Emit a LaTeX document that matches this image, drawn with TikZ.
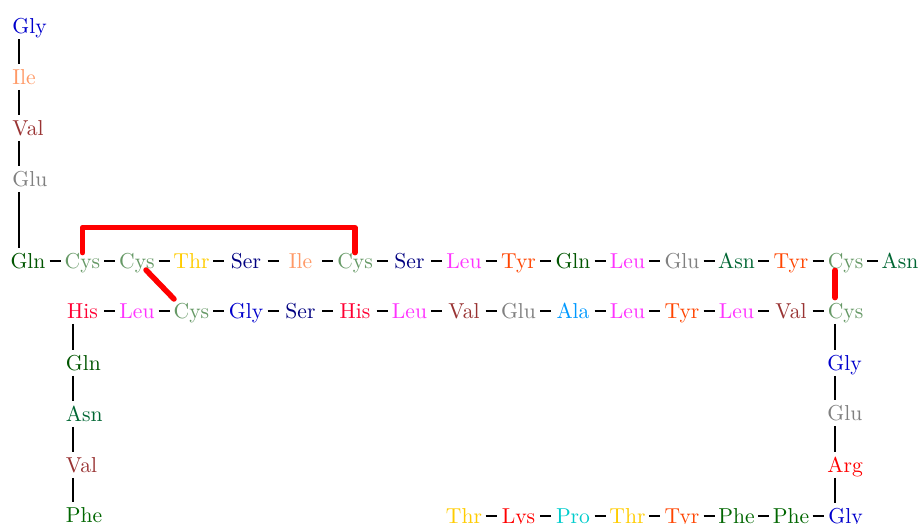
\documentclass[tikz,border=0pt]{standalone}
\usetikzlibrary{calc}
\definecolor{cGly}{HTML}{0000CC}
\definecolor{cIle}{HTML}{FF9966}
\definecolor{cVal}{HTML}{993333}
\definecolor{cGlu}{HTML}{808080}
\definecolor{cGln}{HTML}{005500}
\definecolor{cCys}{HTML}{669966}
\definecolor{cThr}{HTML}{FFCC00}
\definecolor{cSer}{HTML}{000080}
\definecolor{cLeu}{HTML}{FF33FF}
\definecolor{cTyr}{HTML}{FF4400}
\definecolor{cAsn}{HTML}{006633}
\definecolor{cHis}{HTML}{FF0033}
\definecolor{cAla}{HTML}{0099FF}
\definecolor{cArg}{HTML}{FF0000}
\definecolor{cLys}{HTML}{FF0000}
\definecolor{cPro}{HTML}{00CCCC}
\definecolor{cPhe}{HTML}{006600}
\begin{document}
\begin{tikzpicture}[x=0.5pt,y=-0.5pt,
  aa/.style={inner sep=0pt, text height=10pt, text depth=2.75pt, font=\fontsize{10.8}{13}\selectfont},
  rownode/.style={aa, minimum width=21.25pt, anchor=base},
  colnode/.style={aa, anchor=base west},
  link/.style={line width=1pt, black},
  bond/.style={red, line width=2.75pt, line cap=round, line join=round}]
\useasboundingbox (0,0) rectangle (920,524);
% column bar positions
\coordinate (colL) at (19,0);
\coordinate (colM) at (73,0);
\coordinate (colR) at (835,0);
% row A
\foreach \n [count=\i from 0] in {Gln,Cys,Cys,Thr,Ser,Ile,Cys,Ser,Leu,Tyr,Gln,Leu,Glu,Asn,Tyr,Cys,Asn}
  \node[rownode, text=c\n] (a\i) at (28+54.5*\i,268) {\n};
% row B
\foreach \n [count=\i from 1] in {His,Leu,Cys,Gly,Ser,His,Leu,Val,Glu,Ala,Leu,Tyr,Leu,Val,Cys}
  \node[rownode, text=c\n] (b\i) at (28+54.5*\i,318) {\n};
% bottom row
\foreach \n [count=\i from 8] in {Thr,Lys,Pro,Thr,Tyr,Phe,Phe,Gly}
  \node[rownode, text=c\n] (d\i) at (28+54.5*\i,523) {\n};
% left column
\node[colnode, text=cGly] (l1) at (12,33.5) {Gly};
\node[colnode, text=cIle] (l2) at (12,84) {Ile};
\node[colnode, text=cVal] (l3) at (12,135) {Val};
\node[colnode, text=cGlu] (l4) at (12,186) {Glu};
% middle column
\node[colnode, text=cGln] (m1) at (65.5,370) {Gln};
\node[colnode, text=cAsn] (m2) at (65.5,421) {Asn};
\node[colnode, text=cVal] (m3) at (65.5,472) {Val};
\node[colnode, text=cPhe] (m4) at (65.5,522.5) {Phe};
% right column
\node[colnode, text=cGly] (r1) at (827,370) {Gly};
\node[colnode, text=cGlu] (r2) at (827,420.5) {Glu};
\node[colnode, text=cArg] (r3) at (827,472) {Arg};
% horizontal links
\foreach \i in {0,...,15}{\pgfmathtruncatemacro\j{\i+1}\draw[link] (a\i) -- (a\j);}
\foreach \i in {1,...,14}{\pgfmathtruncatemacro\j{\i+1}\draw[link] (b\i) -- (b\j);}
\foreach \i in {8,...,14}{\pgfmathtruncatemacro\j{\i+1}\draw[link] (d\i) -- (d\j);}
% vertical links
\draw[link] (l1.south -| colL) -- (l2.north -| colL);
\draw[link] (l2.south -| colL) -- (l3.north -| colL);
\draw[link] (l3.south -| colL) -- (l4.north -| colL);
\draw[link] (l4.south -| colL) -- (a0.north -| colL);
\draw[link] (b1.south -| colM) -- (m1.north -| colM);
\draw[link] (m1.south -| colM) -- (m2.north -| colM);
\draw[link] (m2.south -| colM) -- (m3.north -| colM);
\draw[link] (m3.south -| colM) -- (m4.north -| colM);
\draw[link] (b15.south -| colR) -- (r1.north -| colR);
\draw[link] (r1.south -| colR) -- (r2.north -| colR);
\draw[link] (r2.south -| colR) -- (r3.north -| colR);
\draw[link] (r3.south -| colR) -- (d15.north -| colR);
% disulfide bonds
\draw[bond] ([yshift=-2.5pt]a1.north) |- ([yshift=10pt]a6.north) -- ([yshift=-2.5pt]a6.north);
\draw[bond] ([shift={(9,2)}]a2.base) -- ([shift={(-17.5,-19)}]b3.base);
\draw[bond] ([yshift=1.75pt]a15.south -| colR) -- (b15.north -| colR);
\end{tikzpicture}
\end{document}
